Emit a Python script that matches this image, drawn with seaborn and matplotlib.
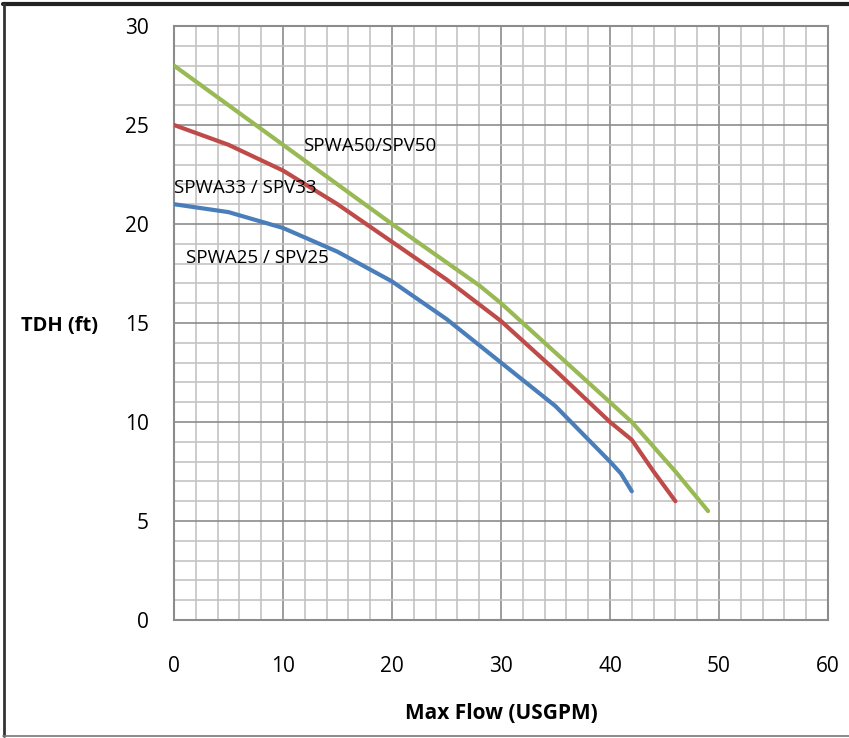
import pandas as pd
import matplotlib
matplotlib.use("Agg")
import matplotlib.pyplot as plt
import seaborn as sns
from matplotlib.lines import Line2D
from matplotlib.ticker import MultipleLocator

# pump curves
flow_50 = [0, 10, 20, 28, 30, 40, 42, 46, 49]
tdh_50 = [28, 24, 20, 16.9, 16, 11, 10, 7.5, 5.5]

flow_33 = [0, 5, 10, 15, 20, 25, 30, 35, 40, 42, 44, 46]
tdh_33 = [25, 24.0, 22.7, 21.0, 19.1, 17.2, 15.1, 12.6, 10, 9.1, 7.5, 6]

flow_25 = [0, 5, 10, 15, 20, 25, 30, 35, 40, 41, 42]
tdh_25 = [21, 20.6, 19.8, 18.6, 17.1, 15.2, 13, 10.8, 8, 7.4, 6.5]

labels = ["SPWA50/SPV50", "SPWA33 / SPV33", "SPWA25 / SPV25"]
colors = ["#98B954", "#BE4B48", "#4A7EBB"]

sns.set_style("white")
plt.rcParams['font.family'] = ['Open Sans', 'DejaVu Sans']
plt.rcParams['text.color'] = 'black'
plt.rcParams['axes.labelcolor'] = 'black'

fig = plt.figure(figsize=(8.49, 7.38), dpi=100)
ax = fig.add_axes([174/849, 118/738, 654/849, 594/738])

df50 = pd.DataFrame({'flow': flow_50, 'tdh': tdh_50})
df33 = pd.DataFrame({'flow': flow_33, 'tdh': tdh_33})
df25 = pd.DataFrame({'flow': flow_25, 'tdh': tdh_25})

for d, c in zip([df50, df33, df25], colors):
    sns.lineplot(data=d, x='flow', y='tdh', ax=ax, color=c, lw=3,
                 solid_capstyle='round', solid_joinstyle='round', zorder=5)

ax.set_xlim(0, 60)
ax.set_ylim(0, 30)
ax.xaxis.set_major_locator(MultipleLocator(10))
ax.xaxis.set_minor_locator(MultipleLocator(2))
ax.yaxis.set_major_locator(MultipleLocator(5))
ax.yaxis.set_minor_locator(MultipleLocator(1))
ax.grid(which='minor', color='#C4C4C4', lw=1.2)
ax.grid(which='major', color='#8C8C8C', lw=1.2)
ax.set_axisbelow(True)

for s in ax.spines.values():
    s.set_color('#8C8C8C')
    s.set_linewidth(1.5)

ax.tick_params(which='major', direction='out', length=6, width=1.2,
               color='#8C8C8C', labelsize=15, labelcolor='black')
ax.tick_params(axis='x', which='major', pad=20)
ax.tick_params(axis='y', which='major', pad=12)
ax.tick_params(which='minor', length=0)

ax.set_xlabel("Max Flow (USGPM)", fontsize=15, fontweight='bold', color='black')
ax.set_ylabel("TDH (ft)", fontsize=14.5, fontweight='bold', rotation=0,
              va='center', ha='center', color='black')
ax.xaxis.set_label_coords(0.5, -0.14)
ax.yaxis.set_label_coords(-0.175, 0.495)

ax.text(11.8, 23.95, labels[0], fontsize=13.5, va='center', ha='left', zorder=6, color='black')
ax.text(0.0, 21.8, labels[1], fontsize=13.5, va='center', ha='left', zorder=6, color='black')
ax.text(1.1, 18.3, labels[2], fontsize=13.5, va='center', ha='left', zorder=6, color='black')

# outer frame of the chart
fig.add_artist(Line2D([0.004, 1.0], [0.994, 0.994], color='#222222', lw=3, transform=fig.transFigure))
fig.add_artist(Line2D([0.005, 0.005], [0.003, 0.995], color='#333333', lw=2, transform=fig.transFigure))
fig.add_artist(Line2D([0.004, 1.0], [0.003, 0.003], color='#777777', lw=1.2, transform=fig.transFigure))

fig.savefig("out.png", dpi=100)
